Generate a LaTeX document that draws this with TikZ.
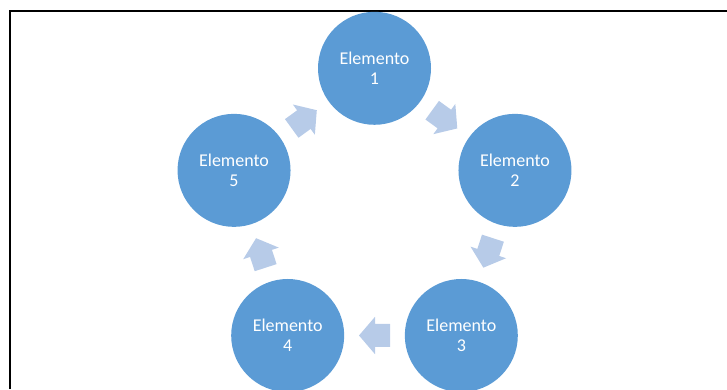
\documentclass[tikz,border=0pt]{standalone}
\usepackage{fontspec}
\setmainfont{Carlito}
\usepackage{tikz}
\usetikzlibrary{calc}
\definecolor{azul}{HTML}{5B9BD5}
\definecolor{azulclaro}{HTML}{B7CBE8}
\tikzset{
    elemento/.style={circle, fill=azul, text=white, inner sep=0pt,
        minimum size=84.75pt, align=center,
        font=\fontsize{13.5}{15}\selectfont},
    flecha/.style={fill=azulclaro}
}

\begin{document}
\begin{tikzpicture}[x=0.75pt,y=0.75pt]
            \useasboundingbox (0,0) rectangle (727,389);
            \coordinate (O) at (374.5,173);
            \coordinate (P) at (10,0);
            \coordinate (Q) at (10,378);
            \coordinate (R) at (727,378);
            \draw[line width=1.5pt] (P)-- (Q)-- (R);

            \foreach \i in {1,...,5}
                \node[elemento] (e\i) at ($(O)+({162-72*\i}:147.7)$) {Elemento\\\i};

            % flechas del ciclo
            \foreach \i/\j in {1/2,2/3,3/4,4/5,5/1}{
                \begin{scope}[shift={($(e\i)!0.5!(e\j)$)}, rotate={36-72*\i}]
                    \fill[flecha] (-15.5,-11.5)-- (-0.5,-11.5)-- (-0.5,-18.7)-- (15.5,0)
                        -- (-0.5,18.7)-- (-0.5,11.5)-- (-15.5,11.5)-- cycle;
                \end{scope}
            }
        \end{tikzpicture}
\end{document}
